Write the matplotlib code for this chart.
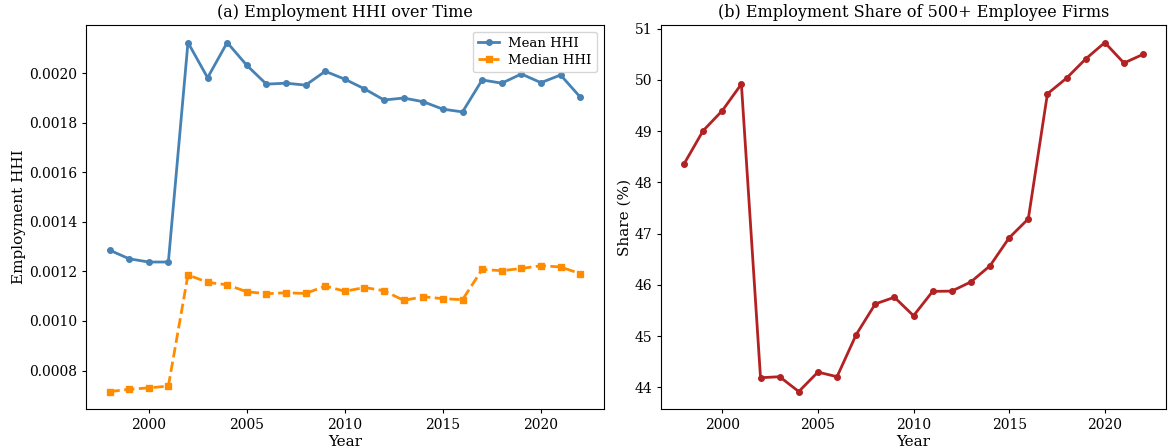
import matplotlib
matplotlib.use("Agg")
import matplotlib.pyplot as plt

plt.rcParams['font.family'] = ['DejaVu Serif']

years = list(range(1998, 2023))

mean_hhi = [0.001286, 0.001251, 0.001238, 0.001238, 0.002124, 0.001982, 0.002124,
            0.002032, 0.001956, 0.001960, 0.001952, 0.002008, 0.001976, 0.001937,
            0.001892, 0.001900, 0.001885, 0.001855, 0.001844, 0.001973, 0.001960,
            0.001997, 0.001962, 0.001993, 0.001904]

median_hhi = [0.000715, 0.000724, 0.000730, 0.000737, 0.001186, 0.001156, 0.001146,
              0.001118, 0.001110, 0.001114, 0.001111, 0.001141, 0.001120, 0.001135,
              0.001122, 0.001083, 0.001098, 0.001090, 0.001086, 0.001208, 0.001203,
              0.001212, 0.001223, 0.001218, 0.001191]

share_500 = [48.36, 49.01, 49.40, 49.92, 44.19, 44.21, 43.92, 44.30, 44.21, 45.03,
             45.63, 45.76, 45.40, 45.875, 45.88, 46.06, 46.375, 46.92, 47.29, 49.73,
             50.035, 50.41, 50.73, 50.33, 50.50]

fig = plt.figure(figsize=(11.7, 4.48), dpi=100)
ax1 = fig.add_axes([0.0735, 0.087, 0.4425, 0.857])
ax2 = fig.add_axes([0.565, 0.087, 0.4316, 0.857])

ax1.plot(years, mean_hhi, color='steelblue', marker='o', markersize=4,
         linewidth=2, label='Mean HHI')
ax1.plot(years, median_hhi, color='darkorange', marker='s', markersize=4,
         linewidth=2, linestyle='--', label='Median HHI')
ax1.set_title('(a) Employment HHI over Time', fontsize=11.5)
ax1.set_xlabel('Year', fontsize=11, labelpad=2)
ax1.set_ylabel('Employment HHI', fontsize=11, labelpad=2)
ax1.legend(loc='upper right', fontsize=9.5, labelspacing=0.3,
           handlelength=1.6, handletextpad=0.7)
ax1.set_xticks([2000, 2005, 2010, 2015, 2020])

ax2.plot(years, share_500, color='firebrick', marker='o', markersize=4,
         linewidth=2)
ax2.set_title('(b) Employment Share of 500+ Employee Firms', fontsize=11.5)
ax2.set_xlabel('Year', fontsize=11, labelpad=2)
ax2.set_ylabel('Share (%)', fontsize=11, labelpad=2)
ax2.set_xticks([2000, 2005, 2010, 2015, 2020])

for ax in (ax1, ax2):
    ax.tick_params(labelsize=10, length=3)

fig.savefig('out.png', dpi=100)
